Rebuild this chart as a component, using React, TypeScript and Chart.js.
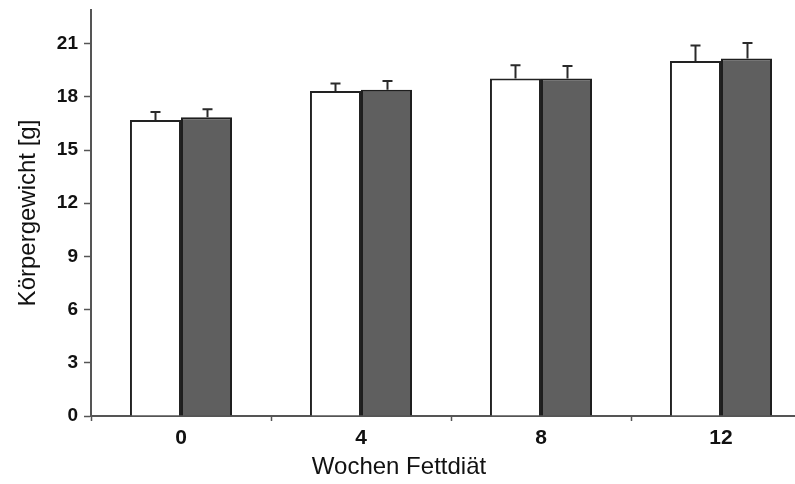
import React, { useEffect, useRef } from "react";
import { Chart, registerables } from "chart.js";

Chart.register(...registerables);

const categories = ["0", "4", "8", "12"];
const controlValues = [16.7, 18.33, 19.04, 20.02];
const controlErrors = [0.45, 0.42, 0.75, 0.88];
const fatValues = [16.85, 18.4, 19.04, 20.17];
const fatErrors = [0.45, 0.5, 0.7, 0.87];
const yTicks = [0, 3, 6, 9, 12, 15, 18, 21];
const yTitle = "Körpergewicht [g]";
const xTitle = "Wochen Fettdiät";

const errors = [controlErrors, fatErrors];

const errorBarPlugin = {
  id: "errorBars",
  afterDatasetsDraw(chart: any) {
    const ctx = chart.ctx;
    const yScale = chart.scales.y;
    ctx.save();
    ctx.strokeStyle = "#2a2a2a";
    ctx.lineWidth = 2;
    chart.data.datasets.forEach((ds: any, di: number) => {
      const meta = chart.getDatasetMeta(di);
      meta.data.forEach((el: any, i: number) => {
        const v = ds.data[i];
        const top = yScale.getPixelForValue(v + errors[di][i]);
        const x = Math.round(el.x) + 0.5;
        ctx.beginPath();
        ctx.moveTo(x, el.y);
        ctx.lineTo(x, top);
        ctx.moveTo(x - 5, top);
        ctx.lineTo(x + 5, top);
        ctx.stroke();
      });
    });
    ctx.restore();
  },
};

const titlePlugin = {
  id: "axisTitles",
  afterDraw(chart: any) {
    const ctx = chart.ctx;
    const area = chart.chartArea;
    ctx.save();
    ctx.fillStyle = "#111";
    ctx.font = "24px 'Liberation Sans', Arial, sans-serif";
    ctx.textAlign = "center";
    ctx.textBaseline = "middle";
    ctx.fillText(xTitle, 399, 467);
    ctx.translate(28, (area.top + area.bottom) / 2);
    ctx.rotate(-Math.PI / 2);
    ctx.fillText(yTitle, 0, 0);
    ctx.restore();
  },
};

export default function App() {
  const ref = useRef<HTMLCanvasElement | null>(null);
  useEffect(() => {
    if (!ref.current) return;
    const chart = new Chart(ref.current, {
      type: "bar",
      data: {
        labels: categories,
        datasets: [
          {
            data: controlValues,
            backgroundColor: "#ffffff",
            borderColor: "#222222",
            borderWidth: 2,
            categoryPercentage: 0.567,
            barPercentage: 1,
          },
          {
            data: fatValues,
            backgroundColor: "#5f5f5f",
            borderColor: "#1e1e1e",
            borderWidth: 2,
            categoryPercentage: 0.567,
            barPercentage: 1,
          },
        ],
      },
      options: {
        animation: false,
        responsive: false,
        devicePixelRatio: 1,
        layout: { padding: { top: 10, right: 4, left: 0, bottom: 0 } },
        plugins: {
          legend: { display: false },
          tooltip: { enabled: false },
        },
        scales: {
          x: {
            afterFit: (s: any) => {
              s.height = 68;
              s.paddingLeft = 0;
              s.paddingRight = 0;
            },
            grid: {
              offset: true,
              drawOnChartArea: false,
              drawTicks: true,
              tickLength: 5,
              tickColor: "#555",
              tickWidth: 1.5,
            },
            border: { display: true, color: "#555", width: 2 },
            ticks: {
              color: "#111",
              padding: 5,
              font: { family: "'Liberation Sans', Arial, sans-serif", size: 21, weight: "bold" },
            },
          },
          y: {
            min: 0,
            max: 22.9,
            afterFit: (s: any) => {
              s.width = 91;
              s.paddingTop = 0;
              s.paddingBottom = 0;
            },
            afterBuildTicks: (s: any) => {
              s.ticks = yTicks.map((v) => ({ value: v }));
            },
            grid: {
              drawOnChartArea: false,
              drawTicks: true,
              tickLength: 7,
              tickColor: "#555",
              tickWidth: 1.5,
            },
            border: { display: true, color: "#555", width: 2 },
            ticks: {
              color: "#111",
              padding: 6,
              font: { family: "'Liberation Sans', Arial, sans-serif", size: 19, weight: "bold" },
            },
          },
        },
      },
      plugins: [errorBarPlugin, titlePlugin],
    });
    return () => chart.destroy();
  }, []);
  return (
    <div
      style={{
        position: "absolute",
        left: 0,
        top: 0,
        width: 795,
        height: 484,
        overflow: "hidden",
        background: "#fff",
      }}
    >
      <canvas ref={ref} width={815} height={484} style={{ display: "block" }} />
    </div>
  );
}
